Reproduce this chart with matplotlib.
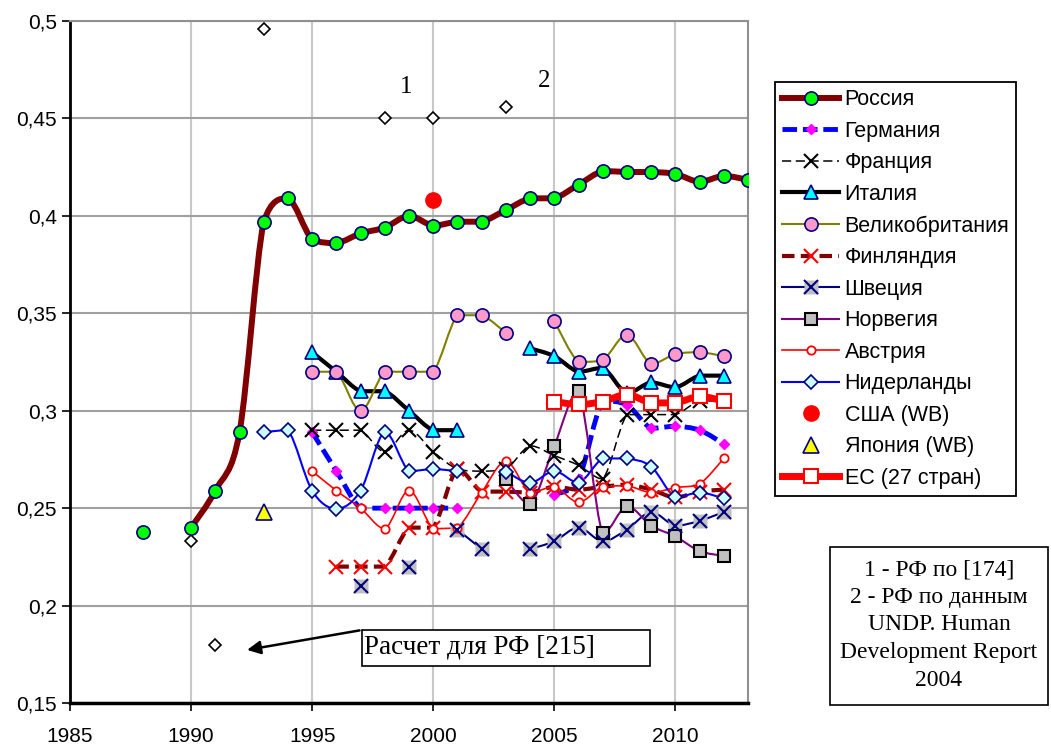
import numpy as np
import matplotlib
matplotlib.use("Agg")
import matplotlib.pyplot as plt
from matplotlib.lines import Line2D
from matplotlib.patches import Rectangle, PathPatch
from matplotlib.path import Path
from matplotlib.legend_handler import HandlerTuple
from matplotlib.ticker import FuncFormatter, MultipleLocator

nan = np.nan

# --- data ---
rus_years = list(range(1988, 2014))
rus = [0.238, nan, 0.240, 0.259, 0.289, 0.397, 0.409, 0.388, 0.386, 0.391, 0.394, 0.400, 0.395,
       0.397, 0.397, 0.403, 0.409, 0.409, 0.416, 0.423, 0.4225, 0.4225, 0.4215, 0.4175, 0.4205, 0.4185]

years95 = list(range(1995, 2013))
ger = [0.289, 0.269, 0.25, 0.25, 0.25, 0.25, 0.25, nan, nan, nan, 0.257, 0.265, 0.305, 0.303,
       0.291, 0.292, 0.290, 0.283]
fra = [0.29, 0.29, 0.29, 0.279, 0.29, 0.279, 0.27, 0.269, 0.27, 0.282, 0.277, 0.272, 0.265,
       0.298, 0.298, 0.298, 0.305, 0.305]
ita = [0.33, 0.32, 0.31, 0.31, 0.30, 0.29, 0.29, nan, nan, 0.332, 0.328, 0.320, 0.322, 0.309,
       0.3145, 0.312, 0.318, 0.318]
gbr = [0.32, 0.32, 0.30, 0.32, 0.32, 0.32, 0.349, 0.349, 0.340, nan, 0.346, 0.325, 0.326, 0.339,
       0.324, 0.329, 0.330, 0.328]
aut = [0.269, 0.259, 0.25, 0.2395, 0.259, 0.2395, 0.24, 0.258, 0.274, 0.258, 0.261, 0.253, 0.261,
       0.2615, 0.258, 0.2605, 0.2625, 0.2755]

fin_years = list(range(1996, 2013))
fin = [0.22, 0.22, 0.22, 0.24, 0.24, 0.27, 0.2585, 0.2585, 0.258, 0.261, 0.2595, 0.261, 0.262,
       0.2595, 0.2555, 0.2585, 0.2595]

swe_years = list(range(1997, 2013))
swe = [0.21, nan, 0.22, nan, 0.239, 0.229, nan, 0.229, 0.233, 0.240, 0.233, 0.239, 0.248, 0.241,
       0.2435, 0.248]

nor_years = list(range(2003, 2013))
nor = [0.265, 0.252, 0.282, 0.310, 0.237, 0.251, 0.241, 0.2355, 0.228, 0.2255]

nld_years = list(range(1993, 2013))
nld = [0.289, 0.29, 0.259, 0.2497, 0.259, 0.289, 0.269, 0.27, 0.269, nan, 0.2688, 0.263, 0.269,
       0.263, 0.2755, 0.2755, 0.2713, 0.2555, 0.258, 0.255]

eu_years = list(range(2005, 2013))
eu = [0.3047, 0.3032, 0.3047, 0.3083, 0.304, 0.304, 0.3073, 0.305]

usa_year, usa = [2000], [0.408]
jpn_year, jpn = [1993], [0.248]

# other estimates for Russia (open diamonds)
est_years = [1990, 1991, 1993, 1998, 2000, 2003]
est = [0.233, 0.18, 0.496, 0.45, 0.45, 0.456]

labels = ["Россия", "Германия", "Франция", "Италия", "Великобритания", "Финляндия", "Швеция",
          "Норвегия", "Австрия", "Нидерланды", "США (WB)", "Япония (WB)", "ЕС (27 стран)"]

plt.rcParams['font.family'] = ['Liberation Sans', 'DejaVu Sans']

fig = plt.figure(figsize=(10.51, 7.44), dpi=100)
ax = fig.add_axes([70/1051, 41/744, 678/1051, 682/744])

navy = '#000080'


def smooth_line(x, y, color, lw, ls, z):
    # excel-like smoothed line: bezier curve through the points, broken at gaps
    x = np.asarray(x, float)
    y = np.asarray(y, float)
    idx = np.flatnonzero(~np.isnan(y))
    runs = np.split(idx, np.flatnonzero(np.diff(idx) > 1) + 1)
    verts, codes = [], []
    for r in runs:
        if len(r) < 2:
            continue
        px, py = x[r], y[r]
        n = len(px)
        verts.append((px[0], py[0]))
        codes.append(Path.MOVETO)
        for i in range(n - 1):
            a = max(i - 1, 0)
            b = min(i + 2, n - 1)
            lo, hi = min(py[i], py[i+1]), max(py[i], py[i+1])
            c1 = np.clip(py[i] + (py[i+1] - py[a]) / 6, lo, hi)
            c2 = np.clip(py[i+1] - (py[b] - py[i]) / 6, lo, hi)
            verts.append((px[i] + (px[i+1] - px[a]) / 6, c1))
            verts.append((px[i+1] - (px[b] - px[i]) / 6, c2))
            verts.append((px[i+1], py[i+1]))
            codes += [Path.CURVE4] * 3
    if verts:
        ax.add_patch(PathPatch(Path(verts, codes), fill=False, ec=color, lw=lw, ls=ls,
                               capstyle='butt', joinstyle='round', zorder=z))


def series(x, y, color, lw, ls, z=3, **mk):
    smooth_line(x, y, color, lw, ls, z)
    ax.plot(x, y, ls='none', zorder=z + 0.1, **mk)
    return Line2D([], [], color=color, lw=lw, ls=ls, **mk)


h = []
h.append(series(rus_years, rus, '#800000', 4.3, '-', 5, marker='o', ms=9.5, mfc='#00FF00',
                mec=navy, mew=1.2))
h.append(series(years95, ger, '#0000FF', 3.5, (0, (3, 1.2)), marker='D', ms=5,
                mfc='#FF00FF', mec='#FF00FF'))
h.append(series(years95, fra, 'black', 1.1, (0, (6, 3)), marker='x', ms=10, mew=1.5,
                mec='black'))
h.append(series(years95, ita, 'black', 3, '-', marker='^', ms=10, mfc='#00FFFF', mec=navy,
                mew=1.2))
h.append(series(years95, gbr, '#808000', 1.5, '-', marker='o', ms=9.5, mfc='#FF99CC',
                mec=navy, mew=1.2))
h.append(series(fin_years, fin, '#800000', 3, (0, (3, 1.5)), marker='x', ms=10, mew=1.5,
                mec='#FF0000'))
swe_bg = series(swe_years, swe, navy, 1.5, '-', marker='s', ms=10, mfc='#C0C0C0', mec='none')
ax.plot(swe_years, swe, ls='none', marker='x', ms=10, mew=1.5, mec=navy, zorder=3.2)
h.append((swe_bg, Line2D([], [], ls='none', marker='x', ms=10, mew=1.5, mec=navy)))
h.append(series(nor_years, nor, '#800080', 1.5, '-', marker='s', ms=9, mfc='#C0C0C0',
                mec='black', mew=1.5))
h.append(series(years95, aut, '#FF0000', 1.2, '-', marker='o', ms=6, mfc='white',
                mec='#FF0000', mew=1.3))
h.append(series(nld_years, nld, '#0000FF', 1.5, '-', marker='D', ms=7, mfc='#CCFFFF',
                mec=navy, mew=1.2))
h.append(ax.plot(usa_year, usa, ls='none', marker='o', ms=11, mfc='#FF0000', mec='#FF0000',
                 zorder=4)[0])
h.append(ax.plot(jpn_year, jpn, ls='none', marker='^', ms=12, mfc='#FFFF00', mec=navy,
                 mew=1.2, zorder=4)[0])
h.append(series(eu_years, eu, '#FF0000', 5, '-', 4, marker='s', ms=10, mfc='white',
                mec='#FF0000', mew=1.5))
ax.plot(est_years, est, ls='none', marker='D', ms=6, mfc='white', mec='black', mew=1.2,
        zorder=4)

ax.set_xlim(1985, 2013)
ax.set_ylim(0.15, 0.5)
ax.xaxis.set_major_locator(MultipleLocator(5))
ax.yaxis.set_major_locator(MultipleLocator(0.05))
ax.yaxis.set_major_formatter(FuncFormatter(lambda v, p: f"{v:.2f}".rstrip('0').replace('.', ',')))
ax.grid(axis='x', color='#C8C8C8', lw=1.5)
ax.grid(axis='y', color='#A0A0A0', lw=1.5)
ax.set_axisbelow(True)
ax.tick_params(labelsize=15, direction='out', length=6, width=1.2, colors='black')
ax.tick_params(axis='x', pad=11)
for s in ['top', 'right']:
    ax.spines[s].set_color('#909090')
    ax.spines[s].set_linewidth(1.5)
ax.spines['left'].set_linewidth(2)
ax.spines['bottom'].set_linewidth(2.5)

# labels near estimate diamonds
ax.text(1998.9, 0.466, "1", fontsize=18, family='Liberation Serif', ha='center', va='center')
ax.text(2004.6, 0.469, "2", fontsize=18, family='Liberation Serif', ha='center', va='center')

# callout box with arrow
ax.annotate('', xy=(1992.2, 0.177), xytext=(1997.07, 0.1875),
            arrowprops=dict(arrowstyle='-|>', color='black', lw=1.8, mutation_scale=20))
ax.add_patch(Rectangle((1997.07, 0.1692), 11.9, 0.0185, fc='white', ec='black', lw=1.2,
                       zorder=6))
ax.text(1997.15, 0.1785, "Расчет для РФ [215]", fontsize=19.5, family='Liberation Serif',
        ha='left', va='center', zorder=7)

# right side note
fig.patches.append(Rectangle((830/1051, 1 - 705/744), 218/1051, 158/744, transform=fig.transFigure,
                             fc='white', ec='black', lw=1.2))
fig.text(939/1051, 1 - 625/744,
         "1 - РФ по [174]\n2 - РФ по данным\nUNDP. Human\nDevelopment Report\n2004",
         fontsize=17, family='Liberation Serif', ha='center', va='center', linespacing=1.42)

fig.legend(h, labels, loc='upper left', bbox_to_anchor=(775/1051, 1 - 82/744),
           bbox_transform=fig.transFigure, fontsize=15.5, frameon=True, fancybox=False,
           edgecolor='black', framealpha=1, handlelength=2.65, handletextpad=0.25,
           labelspacing=0.49, borderpad=0.33, borderaxespad=0, numpoints=1,
           handler_map={tuple: HandlerTuple(ndivide=1)})
fig.legends[0].get_frame().set_linewidth(1.3)

fig.savefig("out.png", dpi=100)
